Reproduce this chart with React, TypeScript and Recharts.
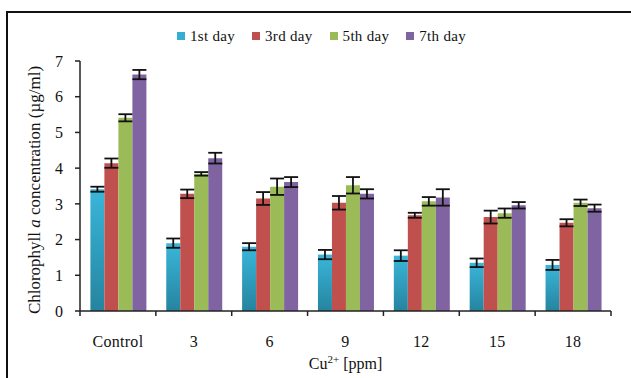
import { BarChart, Bar, XAxis, YAxis, ErrorBar } from "recharts";

const categories = ["Control", "3", "6", "9", "12", "15", "18"];
const day1 = [3.41, 1.9, 1.8, 1.58, 1.55, 1.35, 1.29];
const day1Err = [0.07, 0.13, 0.1, 0.13, 0.15, 0.12, 0.14];
const day3 = [4.14, 3.28, 3.15, 3.03, 2.68, 2.63, 2.47];
const day3Err = [0.13, 0.12, 0.18, 0.19, 0.07, 0.18, 0.1];
const day5 = [5.41, 3.84, 3.48, 3.52, 3.07, 2.74, 3.03];
const day5Err = [0.1, 0.05, 0.23, 0.23, 0.12, 0.13, 0.09];
const day7 = [6.62, 4.28, 3.61, 3.28, 3.18, 2.96, 2.88];
const day7Err = [0.13, 0.15, 0.14, 0.13, 0.23, 0.09, 0.1];
const yTicks = [0, 1, 2, 3, 4, 5, 6, 7];

const series = [
  { key: "d1", name: "1st day", color: "#34afd3", fill: "url(#g-blue)" },
  { key: "d3", name: "3rd day", color: "#c0504d", fill: "#c0504d" },
  { key: "d5", name: "5th day", color: "#9bbb59", fill: "#9bbb59" },
  { key: "d7", name: "7th day", color: "#8064a2", fill: "#8064a2" },
];

const data = categories.map((c, i) => ({
  cat: c,
  d1: day1[i],
  d1e: day1Err[i],
  d3: day3[i],
  d3e: day3Err[i],
  d5: day5[i],
  d5e: day5Err[i],
  d7: day7[i],
  d7e: day7Err[i],
}));

const FONT = "'Liberation Serif', 'Times New Roman', serif";

function XTick(props: any) {
  const { x, y, payload, index, visibleTicksCount } = props;
  const half = payload.offset || 0;
  const last = index === visibleTicksCount - 1;
  return (
    <g>
      <line x1={x - half} x2={x - half} y1={y} y2={y + 5} stroke="#222" strokeWidth={1.5} />
      {last && <line x1={x + half} x2={x + half} y1={y} y2={y + 5} stroke="#222" strokeWidth={1.5} />}
      <text x={x} y={y + 36} textAnchor="middle" fontFamily={FONT} fontSize={16} letterSpacing={0.3} fill="#111">
        {payload.value}
      </text>
    </g>
  );
}

function ChartLegend() {
  return (
    <div
      style={{
        position: "absolute",
        top: 27,
        left: 0,
        width: 660,
        display: "flex",
        justifyContent: "center",
        fontFamily: FONT,
        fontSize: 15,
        letterSpacing: 0.3,
        color: "#111",
        lineHeight: "18px",
      }}
    >
      {series.map((s) => (
        <div key={s.key} style={{ display: "flex", alignItems: "center", marginRight: 17 }}>
          <span style={{ display: "inline-block", width: 8, height: 8, background: s.color, marginRight: 5 }} />
          <span>{s.name}</span>
        </div>
      ))}
    </div>
  );
}

export default function App() {
  return (
    <div style={{ position: "absolute", left: 0, top: 0, width: 631, height: 378, background: "#fff", overflow: "hidden" }}>
      <div
        style={{
          position: "absolute",
          left: 6,
          top: 11,
          width: 660,
          height: 400,
          borderLeft: "2px solid #111",
          borderTop: "2px solid #111",
        }}
      />
      <BarChart
        width={631}
        height={378}
        data={data}
        margin={{ top: 61, right: 20, left: 0, bottom: 37 }}
        barCategoryGap="13.7%"
        barGap={0}
        style={{ position: "absolute", left: 0, top: 0 }}
      >
        <defs>
          <linearGradient id="g-blue" x1="0" y1="0" x2="0" y2="1">
            <stop offset="0%" stopColor="#3ab6da" />
            <stop offset="100%" stopColor="#25849f" />
          </linearGradient>
        </defs>
        <XAxis
          dataKey="cat"
          height={30}
          axisLine={{ stroke: "#222", strokeWidth: 1.5 }}
          tickLine={false}
          tickSize={0}
          tickMargin={0}
          interval={0}
          tick={<XTick />}
          label={{
            content: (p: any) => {
              const vb = p.viewBox;
              return (
                <text x={vb.x + vb.width / 2} y={vb.y + 58} textAnchor="middle" fontFamily={FONT} fontSize={16} fill="#111">
                  Cu<tspan dy={-6} fontSize={11}>2+</tspan>
                  <tspan dy={6}> [ppm]</tspan>
                </text>
              );
            },
          }}
        />
        <YAxis
          width={80}
          domain={[0, 7]}
          ticks={yTicks}
          interval={0}
          axisLine={{ stroke: "#222", strokeWidth: 1.5 }}
          tickLine={{ stroke: "#222", strokeWidth: 1.5 }}
          tickSize={5}
          tickMargin={12}
          tick={{ fontFamily: FONT, fontSize: 16, fill: "#111" }}
          label={{
            content: () => (
              <text
                transform="translate(40,190) rotate(-90)"
                textAnchor="middle"
                fontFamily={FONT}
                fontSize={17}
                fill="#111"
              >
                Chlorophyll <tspan fontStyle="italic">a</tspan> concentration (µg/ml)
              </text>
            ),
          }}
        />
        {series.map((s) => (
          <Bar key={s.key} dataKey={s.key} name={s.name} fill={s.fill} isAnimationActive={false}>
            <ErrorBar dataKey={s.key + "e"} width={7} stroke="#111" strokeWidth={1.8} direction="y" />
          </Bar>
        ))}
      </BarChart>
      <ChartLegend />
    </div>
  );
}
